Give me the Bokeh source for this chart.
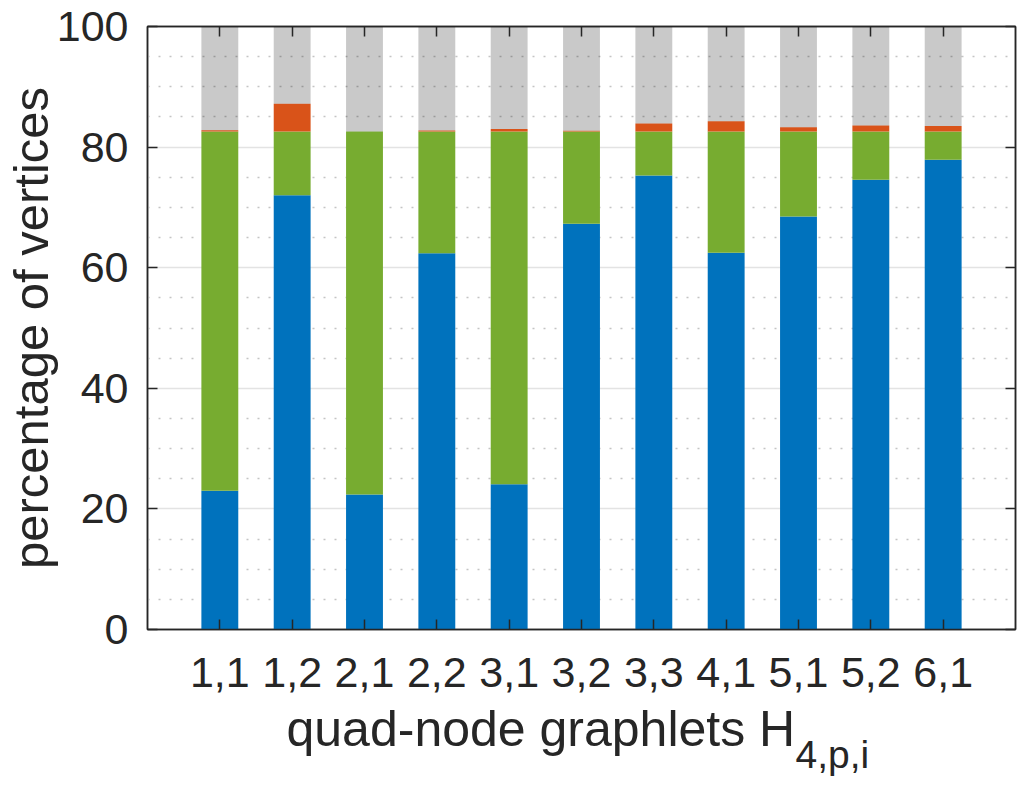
from bokeh.plotting import figure
from bokeh.models import (ColumnDataSource, Range1d, FixedTicker,
                          LinearAxis, Title)
from bokeh.embed import file_html
from bokeh.resources import INLINE

# ---------------- data ----------------
categories = ["1,1", "1,2", "2,1", "2,2", "3,1", "3,2", "3,3", "4,1", "5,1", "5,2", "6,1"]
blue   = [23.0, 72.0, 22.4, 62.4, 24.1, 67.3, 75.3, 62.5, 68.5, 74.6, 77.9]
green  = [59.6, 10.6, 60.2, 20.2, 58.5, 15.3,  7.3, 20.1, 14.1,  8.0,  4.7]
orange = [0.2,  4.6,  0.0,  0.15, 0.4,  0.1,  1.3,  1.7,  0.7,  1.0,  0.9]
gray   = [17.2, 12.8, 17.4, 17.25, 17.0, 17.3, 16.1, 15.7, 16.7, 16.4, 16.5]
y_ticks = [0, 20, 40, 60, 80, 100]
y_minor = [5, 10, 15, 25, 30, 35, 45, 50, 55, 65, 70, 75, 85, 90, 95]
x_title = "quad-node graphlets H"
x_title_sub = "4,p,i"
y_title = "percentage of vertices"

FONT = "Liberation Sans"
TXT = "#262626"
TICK_FS = "43px"
LABEL_FS = "49px"
XLABEL_FS = "50px"
SUB_FS = "39px"

xpos = list(range(1, len(categories) + 1))   # bar positions 1..N

source = ColumnDataSource(dict(x=xpos, blue=blue, green=green,
                               orange=orange, gray=gray))

p = figure(width=1018, height=779,
           x_range=Range1d(0, len(categories) + 1),
           y_range=Range1d(0, 100),
           output_backend="svg", toolbar_location=None,
           min_border_left=137, min_border_right=3,
           min_border_top=26, min_border_bottom=150,
           background_fill_color="white", border_fill_color="white",
           outline_line_color=TXT, outline_line_width=1.5)

p.vbar_stack(["blue", "green", "orange", "gray"], x="x", width=0.51,
             source=source,
             fill_color=["#0072BD", "#77AC30", "#D95319", "#000000"],
             fill_alpha=[1.0, 1.0, 1.0, 0.21],
             line_color=None)

# grid
p.xgrid.visible = False
p.ygrid.ticker = FixedTicker(ticks=y_ticks, minor_ticks=y_minor)
p.ygrid.grid_line_color = "#e3e3e3"
p.ygrid.grid_line_width = 1.5
p.ygrid.minor_grid_line_color = "#c4c4c4"
p.ygrid.minor_grid_line_width = 1.5
p.ygrid.minor_grid_line_dash = "2 9"


def style_axis(ax):
    ax.axis_line_color = TXT
    ax.axis_line_width = 1.5
    ax.major_tick_line_color = TXT
    ax.major_tick_line_width = 1.5
    ax.major_tick_in = 10
    ax.major_tick_out = 0
    ax.minor_tick_line_color = None
    ax.major_label_text_font = FONT
    ax.major_label_text_font_size = TICK_FS
    ax.major_label_text_color = TXT


# bottom axis
xa = p.xaxis[0]
style_axis(xa)
xa.ticker = FixedTicker(ticks=xpos)
xa.major_label_overrides = {x: c for x, c in zip(xpos, categories)}
xa.major_label_standoff = 28

# left axis
ya = p.yaxis[0]
style_axis(ya)
ya.ticker = FixedTicker(ticks=y_ticks)
ya.major_label_standoff = 19
ya.axis_label = y_title
ya.axis_label_text_font = FONT
ya.axis_label_text_font_size = LABEL_FS
ya.axis_label_text_font_style = "normal"
ya.axis_label_text_color = TXT
ya.axis_label_standoff = -4

# top axis (ticks only)
top = LinearAxis(ticker=FixedTicker(ticks=xpos),
                 major_label_overrides={x: "" for x in xpos})
style_axis(top)
top.major_label_standoff = 0
p.add_layout(top, "above")

# right axis (ticks only)
right = LinearAxis(ticker=FixedTicker(ticks=y_ticks),
                   major_label_overrides={t: "" for t in y_ticks})
style_axis(right)
right.major_label_standoff = 0
p.add_layout(right, "right")

# x title with subscript (two stacked titles below the axis)
t_main = Title(text=x_title, align="left", offset=139, standoff=18,
               text_font=FONT, text_font_size=XLABEL_FS,
               text_font_style="normal", text_color=TXT)
t_sub = Title(text=x_title_sub, align="left", offset=648, standoff=-66,
              vertical_align="top",
              text_font=FONT, text_font_size=SUB_FS,
              text_font_style="normal", text_color=TXT)
p.add_layout(t_main, "below")
p.add_layout(t_sub, "below")

open("out.html", "w").write(file_html(p, INLINE))
